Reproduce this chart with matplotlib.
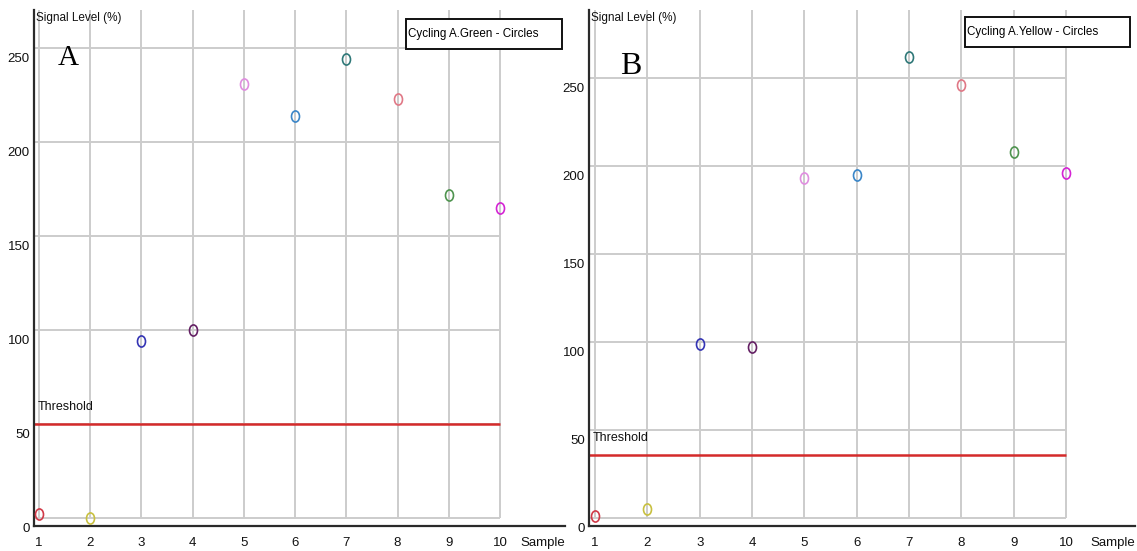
import matplotlib.pyplot as plt
import matplotlib.transforms as mtransforms
from matplotlib.path import Path
from matplotlib.patches import Rectangle

plt.rcParams["font.family"] = ["Liberation Sans Narrow", "Liberation Sans", "DejaVu Sans"]

# sample numbers and signal levels for the two channels
samples = [1, 2, 3, 4, 5, 6, 7, 8, 9, 10]
green_levels = [2, 0, 94, 100, 231, 214, 244, 223, 172, 165]
yellow_levels = [1, 5, 99, 97, 193, 195, 262, 246, 208, 196]
green_threshold = 50
yellow_threshold = 36

sample_colors = ["#d03a48", "#c8c040", "#3434b4", "#642064", "#e08ee0",
                 "#3a86c8", "#2f7878", "#e07886", "#4f944f", "#d424d4"]
y_ticks = [0, 50, 100, 150, 200, 250]

# tall ellipse marker
ellipse = Path.unit_circle().transformed(mtransforms.Affine2D().scale(0.72, 1.0))

W, H = 1137, 551
fig = plt.figure(figsize=(W / 100, H / 100), dpi=100)


def draw_panel(rect, levels, threshold, xlim, ylim, letter, letter_xy, letter_size,
               legend_text, legend_rect):
    ax = fig.add_axes(rect)
    ax.set_xlim(*xlim)
    ax.set_ylim(*ylim)
    for side in ("top", "right"):
        ax.spines[side].set_visible(False)
    for side in ("left", "bottom"):
        ax.spines[side].set_color("#2a2a2a")
        ax.spines[side].set_linewidth(1.6)

    # grid: vertical lines per sample, horizontal lines up to the last sample
    grid_kw = dict(color="#cccccc", linewidth=1.4, zorder=1)
    ax.vlines(samples, 0, ylim[1], **grid_kw)
    ax.hlines(y_ticks, xlim[0], samples[-1], **grid_kw)

    ax.hlines(threshold, xlim[0], samples[-1], color="#d42a2a", linewidth=1.8, zorder=2)
    ax.annotate("Threshold", xy=(xlim[0], threshold), xytext=(3, 8),
                textcoords="offset points", fontsize=9, color="#111111",
                ha="left", va="bottom")

    for x, y, c in zip(samples, levels, sample_colors):
        ax.plot(x, y, marker=ellipse, markersize=8, markerfacecolor="none",
                markeredgecolor=c, markeredgewidth=1.2, linestyle="none", zorder=3)

    ax.set_xticks(samples)
    ax.set_xticklabels([str(s) for s in samples])
    ax.set_yticks(y_ticks)
    ax.set_yticklabels([str(t) for t in y_ticks])
    ax.tick_params(length=0, labelsize=9.5, colors="#111111")
    ax.tick_params(axis="x", pad=8)
    ax.tick_params(axis="y", pad=3)
    shift = mtransforms.ScaledTranslation(0, -0.09, fig.dpi_scale_trans)
    for lab in ax.get_yticklabels():
        lab.set_transform(lab.get_transform() + shift)

    ax.text(1.0, -0.033, "Sample", transform=ax.transAxes, ha="right", va="center",
            fontsize=9.5, color="#111111")
    ax.text(0.003, 0.985, "Signal Level (%)", transform=ax.transAxes, ha="left",
            va="center", fontsize=8.5, color="#111111")

    ax.text(letter_xy[0], letter_xy[1], letter, transform=ax.transAxes,
            fontsize=letter_size, family="Liberation Serif", ha="center", va="center")

    lx, ly, lw, lh = legend_rect
    ax.add_patch(Rectangle((lx, ly), lw, lh, transform=ax.transAxes, facecolor="white",
                           edgecolor="#111111", linewidth=1.4, zorder=5, clip_on=False))
    ax.text(lx + 0.004, ly + lh / 2, legend_text, transform=ax.transAxes, ha="left",
            va="center", fontsize=8.4, zorder=6)
    return ax


bottom = 1 - 526 / H
top = 1 - 10 / H
height = top - bottom

# panel A: x=1 at px 39, x=10 at px 500, y=0 at px 518, 250 at px 48
pa = (34 / W, bottom, (565 - 34) / W, height)
sa = (500 - 39) / 9
va = (518 - 48) / 250
xa = (1 - 5 / sa, 1 + (565 - 39) / sa)
ya = (-8 / va, (518 - 10) / va)
draw_panel(pa, green_levels, green_threshold, xa, ya, "A",
           ((68 - 34) / (565 - 34), 1 - (58 - 10) / 516), 21,
           "Cycling A.Green - Circles",
           ((406 - 34) / (565 - 34), 1 - (49 - 10) / 516, 156 / (565 - 34), 30 / 516))

# panel B: x=1 at px 595, x=10 at px 1066, y=0 at px 518, 250 at px 78
pb = (589 / W, bottom, (1135 - 589) / W, height)
sb = (1066 - 595) / 9
vb = (518 - 78) / 250
xb = (1 - 6 / sb, 1 + (1135 - 595) / sb)
yb = (-8 / vb, (518 - 10) / vb)
draw_panel(pb, yellow_levels, yellow_threshold, xb, yb, "B",
           ((631 - 589) / (1135 - 589), 1 - (66 - 10) / 516), 23,
           "Cycling A.Yellow - Circles",
           ((965 - 589) / (1135 - 589), 1 - (47 - 10) / 516, 165 / (1135 - 589), 30 / 516))

fig.savefig("out.png", dpi=100)
